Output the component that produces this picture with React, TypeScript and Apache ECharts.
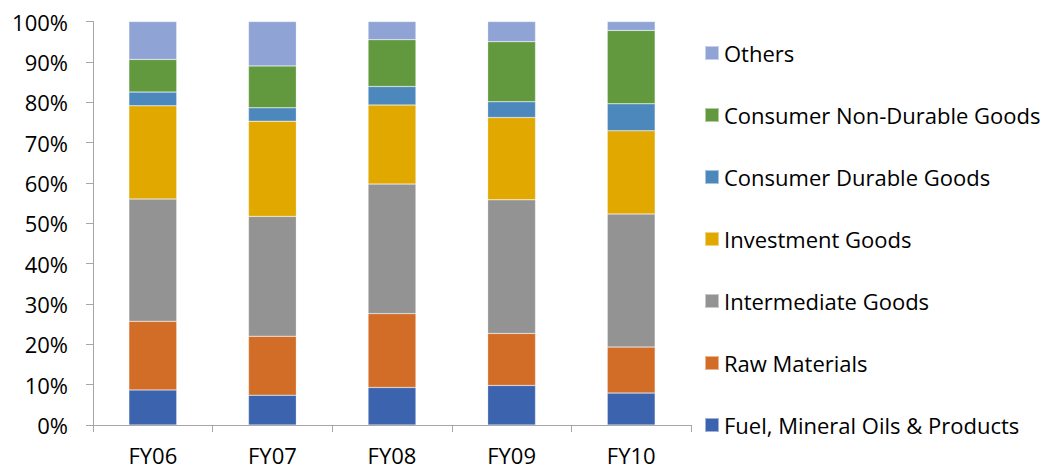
import React, { useEffect, useRef } from "react";
import * as echarts from "echarts";

const categories = ["FY06", "FY07", "FY08", "FY09", "FY10"];
const fuel = [8.7, 7.4, 9.3, 9.8, 7.9];
const rawMaterials = [17.0, 14.6, 18.3, 12.9, 11.4];
const intermediate = [30.3, 29.7, 32.1, 33.1, 33.0];
const investment = [23.1, 23.6, 19.6, 20.4, 20.6];
const consumerDurable = [3.4, 3.3, 4.6, 3.9, 6.7];
const consumerNonDurable = [8.1, 10.4, 11.6, 14.9, 18.2];
const others = [9.4, 11.0, 4.5, 5.0, 2.2];

const seriesDefs = [
  { name: "Fuel, Mineral Oils & Products", data: fuel, color: "#3C64AE" },
  { name: "Raw Materials", data: rawMaterials, color: "#D26D28" },
  { name: "Intermediate Goods", data: intermediate, color: "#939393" },
  { name: "Investment Goods", data: investment, color: "#E1A800" },
  { name: "Consumer Durable Goods", data: consumerDurable, color: "#4C88BC" },
  { name: "Consumer Non-Durable Goods", data: consumerNonDurable, color: "#62993E" },
  { name: "Others", data: others, color: "#8FA3D4" },
];

const FONT = "Open Sans";

export default function App() {
  const ref = useRef<HTMLDivElement>(null);
  useEffect(() => {
    if (!ref.current) return;
    const chart = echarts.init(ref.current, null, { renderer: "svg" });
    chart.setOption({
      animation: false,
      backgroundColor: "#ffffff",
      grid: { left: 93, right: 366, top: 21.5, bottom: 45, containLabel: false },
      legend: {
        orient: "vertical",
        left: 699,
        top: 37,
        itemWidth: 14,
        itemHeight: 14,
        itemGap: 40,
        icon: "rect",
        data: seriesDefs.map((s) => s.name).reverse(),
        textStyle: { fontFamily: FONT, fontSize: 22, color: "#000", lineHeight: 22, padding: [0, 0, 0, 0] },
        selectedMode: false,
      },
      xAxis: {
        type: "category",
        data: categories,
        axisLine: { lineStyle: { color: "#A6A6A6", width: 1 } },
        axisTick: { show: true, length: 7, lineStyle: { color: "#A6A6A6" } },
        axisLabel: { fontFamily: FONT, fontSize: 22, lineHeight: 22, color: "#000", margin: 19 },
      },
      yAxis: {
        type: "value",
        min: 0,
        max: 100,
        interval: 10,
        splitLine: { show: false },
        axisLine: { show: true, lineStyle: { color: "#A6A6A6", width: 1 } },
        axisTick: { show: true, length: 7, lineStyle: { color: "#A6A6A6" } },
        axisLabel: { fontFamily: FONT, fontSize: 22, color: "#000", margin: 25, formatter: "{value}%" },
      },
      series: seriesDefs.map((s) => ({
        name: s.name,
        type: "bar",
        stack: "total",
        barWidth: "40%",
        data: s.data,
        itemStyle: { color: s.color, borderColor: "rgba(255,255,255,0.5)", borderWidth: 0.5 },
      })),
    });
    return () => chart.dispose();
  }, []);
  return <div ref={ref} style={{ width: 1057, height: 470, position: "absolute", left: 0, top: 0 }} />;
}
